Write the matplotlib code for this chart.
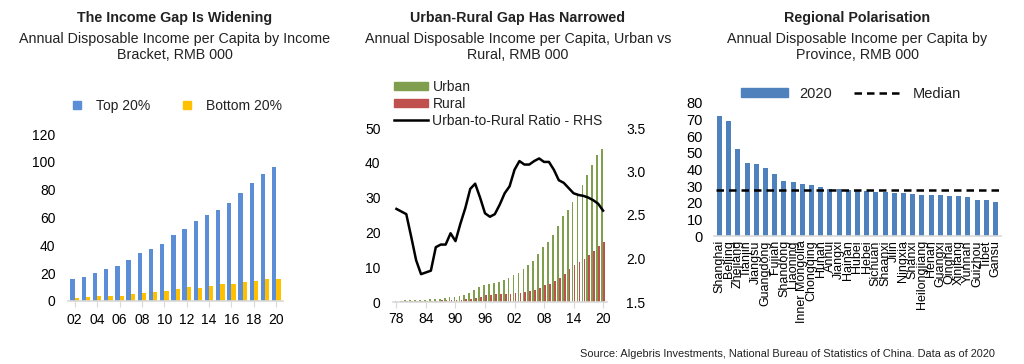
import numpy as np
import matplotlib.pyplot as plt
from matplotlib.lines import Line2D
from matplotlib.patches import Patch

# data
years_q = list(range(2002, 2021))
top20 = [15.5, 17.6, 20.1, 22.9, 25.4, 29.5, 34.7, 37.4, 41.2, 47.1, 51.5, 57.8, 61.6, 65.1, 70.3, 77.3, 85.0, 91.6, 96.1]
bottom20 = [2.4, 2.8, 3.3, 3.5, 3.9, 4.8, 5.6, 6.4, 7.3, 8.4, 10.3, 9.6, 10.8, 12.0, 12.5, 13.5, 14.4, 15.6, 15.8]
q_ticks = ["02", "04", "06", "08", "10", "12", "14", "16", "18", "20"]

years_ur = list(range(1978, 2021))
urban = [0.34, 0.41, 0.48, 0.50, 0.54, 0.57, 0.65, 0.74, 0.90, 1.00, 1.18, 1.37, 1.51, 1.70, 2.03, 2.58,
         3.50, 4.28, 4.84, 5.16, 5.43, 5.85, 6.28, 6.86, 7.70, 8.47, 9.42, 10.49, 11.76, 13.79, 15.78,
         17.18, 19.11, 21.81, 24.57, 26.47, 28.84, 31.20, 33.62, 36.40, 39.25, 42.36, 43.83]
rural = [0.13, 0.16, 0.19, 0.22, 0.27, 0.31, 0.36, 0.40, 0.42, 0.46, 0.55, 0.60, 0.69, 0.71, 0.78, 0.92,
         1.22, 1.58, 1.93, 2.09, 2.16, 2.21, 2.25, 2.37, 2.48, 2.62, 2.94, 3.26, 3.59, 4.14, 4.76,
         5.15, 5.92, 6.98, 7.92, 9.43, 10.49, 11.42, 12.36, 13.43, 14.62, 16.02, 17.13]
ratio = [2.57, 2.54, 2.51, 2.25, 1.98, 1.82, 1.84, 1.86, 2.13, 2.16, 2.16, 2.29, 2.20, 2.40, 2.58, 2.80,
         2.86, 2.70, 2.52, 2.48, 2.51, 2.62, 2.75, 2.83, 3.02, 3.12, 3.08, 3.08, 3.12, 3.15, 3.11,
         3.11, 3.02, 2.90, 2.87, 2.81, 2.75, 2.73, 2.72, 2.70, 2.67, 2.63, 2.55]
ur_ticks = ["78", "84", "90", "96", "02", "08", "14", "20"]

provinces = ["Shanghai", "Beijing", "Zhejiang", "Tianjin", "Jiangsu", "Guangdong", "Fujian", "Shandong",
             "Liaoning", "Inner Mongolia", "Chongqing", "Hunan", "Anhui", "Jiangxi", "Hainan", "Hubei",
             "Hebei", "Sichuan", "Shaanxi", "Jilin", "Ningxia", "Shanxi", "Heilongjiang", "Henan",
             "Guangxi", "Qinghai", "Xinjiang", "Yunnan", "Guizhou", "Tibet", "Gansu"]
prov_income = [72.2, 69.4, 52.4, 43.9, 43.4, 41.0, 37.2, 32.9, 32.7, 31.5, 30.8, 29.4, 28.1, 28.0, 27.9,
               27.9, 27.1, 26.5, 26.2, 25.8, 25.7, 25.2, 24.9, 24.8, 24.6, 24.0, 23.8, 23.3, 21.8, 21.7, 20.3]
median = 27.9

plt.rcParams["font.family"] = "Liberation Sans"
plt.rcParams["text.color"] = "#222222"

W, H = 1024, 364
fig = plt.figure(figsize=(W / 100, H / 100), dpi=100)


def box(l, r, t, b):
    return [l / W, (H - b) / H, (r - l) / W, (b - t) / H]


def style(ax, size=9.5, xpad=5):
    for s in ["top", "right", "left"]:
        ax.spines[s].set_visible(False)
    ax.spines["bottom"].set_color("#d9d9d9")
    ax.spines["bottom"].set_linewidth(1.2)
    ax.tick_params(axis="y", length=0, labelsize=size, pad=9)
    ax.tick_params(axis="x", length=4, color="#d9d9d9", labelsize=size, pad=xpad)


def titles(xc, t, s):
    fig.text(xc / W, 1 - 18 / H, t, ha="center", va="center", fontsize=10.3, weight="bold")
    fig.text(xc / W, 1 - 47 / H, s, ha="center", va="center", fontsize=10.3, linespacing=1.2)


# left chart
ax1 = fig.add_axes(box(68, 283, 134, 301))
x = np.arange(len(years_q))
ax1.bar(x - 0.19, top20, 0.38, color="#5b8ed6", label="Top 20%")
ax1.bar(x + 0.19, bottom20, 0.38, color="#ffc000", label="Bottom 20%")
ax1.set_ylim(0, 120)
ax1.set_yticks(range(0, 121, 20))
ax1.set_xlim(-0.6, len(years_q) - 0.4)
ax1.set_xticks(x[::2])
ax1.set_xticklabels(q_ticks)
style(ax1, 10)
h1 = [Line2D([], [], ls="", marker="s", ms=6, color="#5b8ed6"),
      Line2D([], [], ls="", marker="s", ms=6, color="#ffc000")]
ax1.legend(h1, ["Top 20%", "Bottom 20%"], ncol=2, frameon=False, fontsize=10,
           loc="center", bbox_to_anchor=(0.486, 1.17), handletextpad=0.4, columnspacing=1.6)
titles(175, "The Income Gap Is Widening", "Annual Disposable Income per Capita by Income\nBracket, RMB 000")

# middle chart
ax2 = fig.add_axes(box(393, 607, 128, 302))
yr = np.array(years_ur)
ax2.bar(yr - 0.2, urban, 0.35, color="#7f9f4f")
ax2.bar(yr + 0.2, rural, 0.35, color="#c0504d")
ax2.set_ylim(0, 50)
ax2.set_xlim(1977.3, 2020.8)
ax2.set_xticks(yr[::6])
ax2.set_xticklabels(ur_ticks)
style(ax2, 10, xpad=3)
ax2b = ax2.twinx()
ax2b.plot(yr, ratio, color="black", lw=1.8)
ax2b.set_ylim(1.5, 3.5)
ax2b.set_yticks([1.5, 2.0, 2.5, 3.0, 3.5])
ax2b.set_yticklabels(["1.5", "2.0", "2.5", "3.0", "3.5"])
for s in ["top", "right", "left", "bottom"]:
    ax2b.spines[s].set_visible(False)
ax2b.tick_params(axis="y", length=0, labelsize=10, pad=14)
h2 = [Patch(color="#7f9f4f"), Patch(color="#c0504d"), Line2D([], [], color="black", lw=1.8)]
ax2.legend(h2, ["Urban", "Rural", "Urban-to-Rural Ratio - RHS"], frameon=False, fontsize=10,
           loc="lower left", bbox_to_anchor=(-0.03, 0.96), handlelength=2.5, handleheight=0.6,
           handletextpad=0.3, labelspacing=0.22, borderpad=0)
titles(518, "Urban-Rural Gap Has Narrowed", "Annual Disposable Income per Capita, Urban vs\nRural, RMB 000")

# right chart
ax3 = fig.add_axes(box(714, 1001, 103, 236))
xp = np.arange(len(provinces))
ax3.bar(xp, prov_income, 0.55, color="#4f81bd")
ax3.plot([xp[0] - 0.4, xp[-1] + 0.4], [median, median], color="black", ls=(0, (3, 2)), lw=1.8)
ax3.set_ylim(0, 80)
ax3.set_yticks(range(0, 81, 10))
ax3.set_xlim(-0.6, len(provinces) - 0.4)
ax3.set_xticks(xp)
ax3.set_xticklabels(provinces, rotation=90)
style(ax3, size=10.5)
ax3.tick_params(axis="x", length=0, pad=3, labelsize=9)
ax3.tick_params(axis="y", pad=8)
h3 = [Patch(color="#4f81bd"), Line2D([], [], color="black", ls=(0, (3, 2)), lw=1.8)]
ax3.legend(h3, ["2020", "Median"], ncol=2, frameon=False, fontsize=10.5, loc="center",
           bbox_to_anchor=(0.477, 1.07), handlelength=3.2, handleheight=0.6, columnspacing=1.5)
titles(857, "Regional Polarisation", "Annual Disposable Income per Capita by\nProvince, RMB 000")

fig.text(995 / W, 1 - 354 / H, "Source: Algebris Investments, National Bureau of Statistics of China. Data as of 2020",
         ha="right", va="center", fontsize=7.9)

fig.savefig("out.png", dpi=100)
